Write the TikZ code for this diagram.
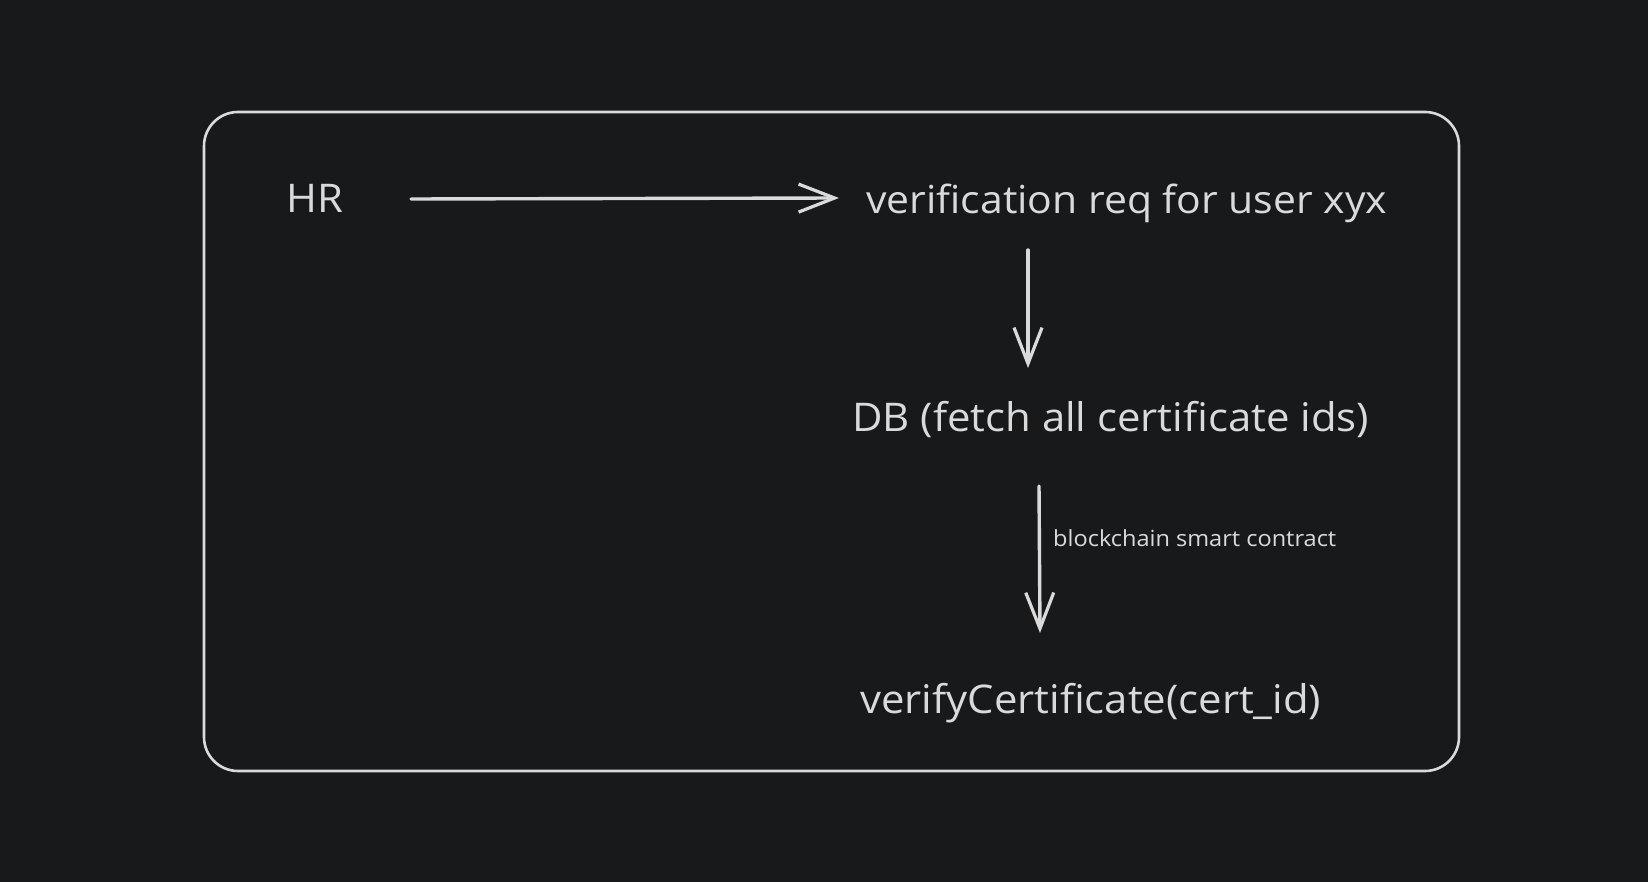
\documentclass[tikz,border=0pt]{standalone}
\usepackage{fontspec}
\setmainfont{Open Sans}[FakeStretch=1.06]
\usetikzlibrary{arrows.meta}
\definecolor{bg}{HTML}{18191B}
\definecolor{ink}{HTML}{DADADA}
\tikzset{
  lbl/.style={text=ink, font=\fontsize{39.5}{42}\selectfont, inner sep=0pt, anchor=west},
  small/.style={text=ink, font=\fontsize{22.2}{26}\selectfont, inner sep=0pt, anchor=west},
  flow/.style={draw=ink, line width=3.4pt, line cap=round, -{Straight Barb[length=36pt,width=28pt,line width=3.2pt]}},
  frame/.style={draw=ink, line width=2.6pt, rounded corners=34pt}
}
\begin{document}
\begin{tikzpicture}[x=1pt,y=-1pt]
\fill[bg] (0,0) rectangle (1648,882);
\useasboundingbox (0,0) rectangle (1648,882);
\draw[frame] (204,112) rectangle (1459,771);
\node[lbl] (hr) at (286,198) {HR};
\node[lbl, font=\fontsize{38.6}{42}\selectfont] (req) at (866,203) {verification req for user xyx};
\node[lbl] (db) at (852,420) {DB (fetch all certificate ids)};
\node[lbl] (vc) at (860,703) {verifyCertificate(cert\_id)};
\coordinate (a1s) at (411,199);
\coordinate (a1e) at (839,198);
\coordinate (a2s) at (1028,250);
\coordinate (a2e) at (1028,368);
\coordinate (a3s) at (1039,486);
\coordinate (a3e) at (1040,633);
\draw[flow] (a1s) -- (a1e);
\draw[flow] (a2s) -- (a2e);
\draw[flow] (a3s) -- (a3e);
\node[small] (bc) at (1053,538) {blockchain smart contract};
\end{tikzpicture}
\end{document}
